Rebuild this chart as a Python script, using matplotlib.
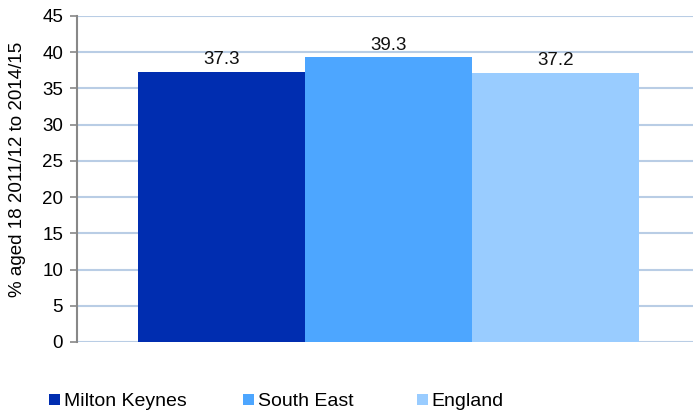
import matplotlib.pyplot as plt
import numpy as np

plt.rcParams['font.family'] = ['Liberation Sans', 'DejaVu Sans']

areas = ["Milton Keynes", "South East", "England"]
values = [37.3, 39.3, 37.2]
colors = ["#002db0", "#4da6ff", "#99ccff"]
yticks = [0, 5, 10, 15, 20, 25, 30, 35, 40, 45]

fig = plt.figure(figsize=(6.93, 4.12), dpi=100)
ax = fig.add_axes([77 / 693, 1 - 342 / 412, 1 - 77 / 693, (342 - 16) / 412])

x = np.arange(len(areas))
bars = ax.bar(x, values, width=1.0, color=colors, zorder=3)
for b, v in zip(bars, values):
    ax.text(b.get_x() + b.get_width() / 2, v + 0.5, f"{v:.1f}",
            ha="center", va="bottom", fontsize=13.5, color="#111111")

ax.set_xlim(-0.865, 2.823)
ax.set_ylim(0, 45)
ax.set_yticks(yticks)
ax.set_xticks([])
ax.tick_params(axis="y", labelsize=13.5, length=5, color="#888888", width=1.2, pad=5)
ax.yaxis.grid(True, color="#b9cde5", linewidth=1.5, zorder=0)
for s in ["top", "right", "bottom"]:
    ax.spines[s].set_visible(False)
ax.spines["left"].set_color("#888888")
ax.spines["left"].set_linewidth(1.5)
ax.set_ylabel("% aged 18 2011/12 to 2014/15", fontsize=13.5)
ax.yaxis.set_label_coords(-0.082, 0.528)

# legend items placed individually to match spacing
leg_x = [49, 243, 417]
for b, name, lx in zip(bars, areas, leg_x):
    fig.legend([b], [name], loc="center left",
               bbox_to_anchor=(lx / 693, 1 - 402 / 412),
               frameon=False, fontsize=14, handlelength=0.55,
               handleheight=0.55, handletextpad=0.2, borderpad=0,
               borderaxespad=0)

fig.savefig("out.png", dpi=100)
